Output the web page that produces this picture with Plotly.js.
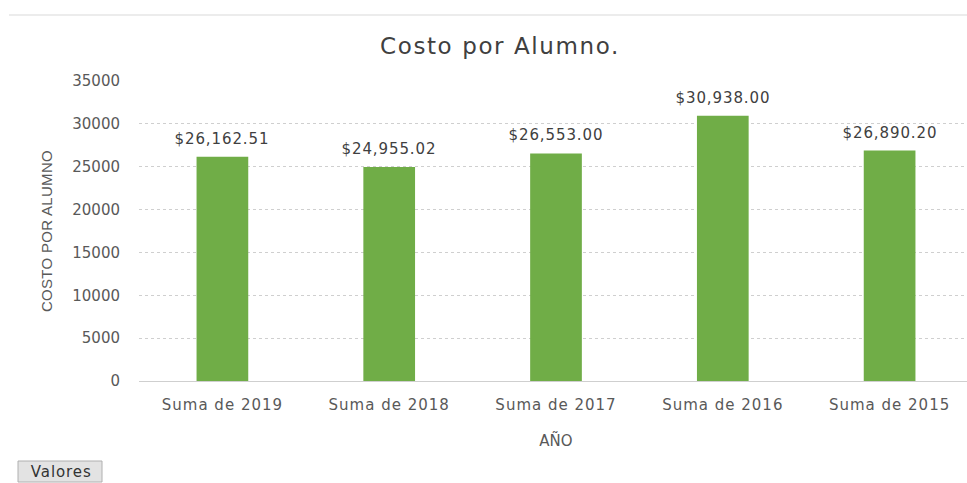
<!DOCTYPE html>
<html>
<head>
<meta charset="utf-8">
<script src="https://cdn.plot.ly/plotly-3.0.1.min.js"></script>
<style>
html,body{margin:0;padding:0;overflow:hidden;background:#fff;}
#chart{width:980px;height:483px;}
#chart .gtitle{letter-spacing:1.6px;}
#chart .xtick text{letter-spacing:1px;}
#chart .annotation-text{letter-spacing:0.9px;}
#chart .ytitle{letter-spacing:0.3px;}
</style>
</head>
<body>
<div id="chart"></div>
<script>
const categories = ["Suma de 2019", "Suma de 2018", "Suma de 2017", "Suma de 2016", "Suma de 2015"];
const costValues = [26162.51, 24955.02, 26553.00, 30938.00, 26890.20];
const valueLabels = ["$26,162.51", "$24,955.02", "$26,553.00", "$30,938.00", "$26,890.20"];
const yTickValues = [0, 5000, 10000, 15000, 20000, 25000, 30000, 35000];

const trace = {
  type: "bar",
  x: categories,
  y: costValues,
  width: 0.31,
  marker: {color: "#70AD47"},
  hoverinfo: "none"
};

const labelAnnotations = categories.map((c, i) => ({
  x: c, y: costValues[i], xref: "x", yref: "y",
  text: valueLabels[i], showarrow: false,
  yanchor: "bottom", yshift: 7,
  font: {family: "DejaVu Sans, sans-serif", size: 15, color: "#404040"}
}));

const layout = {
  width: 980, height: 483,
  margin: {l: 139, r: 7, t: 81, b: 102},
  paper_bgcolor: "#ffffff",
  plot_bgcolor: "#ffffff",
  showlegend: false,
  title: {
    text: "Costo por Alumno.",
    x: 500/980, xref: "container", xanchor: "center",
    y: 1 - 46/483, yref: "container", yanchor: "middle",
    font: {family: "DejaVu Sans, sans-serif", size: 23, color: "#404040"}
  },
  xaxis: {
    type: "category",
    range: [-0.5, 4.5],
    showgrid: false, zeroline: false, showline: false,
    ticks: "", ticklabelstandoff: 13,
    tickfont: {family: "DejaVu Sans, sans-serif", size: 15, color: "#595959"},
    title: {text: "AÑO", standoff: 22, font: {family: "DejaVu Sans, sans-serif", size: 15, color: "#595959"}}
  },
  yaxis: {
    range: [0, 35000],
    tickvals: yTickValues,
    ticktext: yTickValues.map(String),
    showgrid: true, gridcolor: "#cfcfcf", griddash: "dot", gridwidth: 1,
    zeroline: true, zerolinecolor: "#cfcfcf", zerolinewidth: 1,
    showline: false, ticks: "", ticklabelstandoff: 18,
    tickfont: {family: "DejaVu Sans, sans-serif", size: 15, color: "#595959"},
    title: {text: "COSTO POR ALUMNO", standoff: 16, font: {family: "Liberation Sans Narrow, Liberation Sans, sans-serif", size: 15, color: "#595959"}}
  },
  shapes: [
    {type: "line", xref: "paper", yref: "paper", x0: (9-139)/834, x1: (980-139)/834, y0: (381-15)/300, y1: (381-15)/300,
     line: {color: "#d9d9d9", width: 1}},
    {type: "rect", xref: "paper", yref: "paper", x0: (18-139)/834, x1: (102-139)/834, y0: (381-461)/300, y1: (381-482)/300,
     fillcolor: "#e3e3e3", line: {color: "#b0b0b0", width: 1}}
  ],
  annotations: labelAnnotations.concat([{
    xref: "paper", yref: "paper", x: (61-139)/834, y: (381-472)/300,
    text: "Valores", showarrow: false, xanchor: "center", yanchor: "middle",
    font: {family: "DejaVu Sans, sans-serif", size: 15, color: "#333333"}
  }])
};

Plotly.newPlot("chart", [trace], layout, {displayModeBar: false, staticPlot: true});
</script>
</body>
</html>
